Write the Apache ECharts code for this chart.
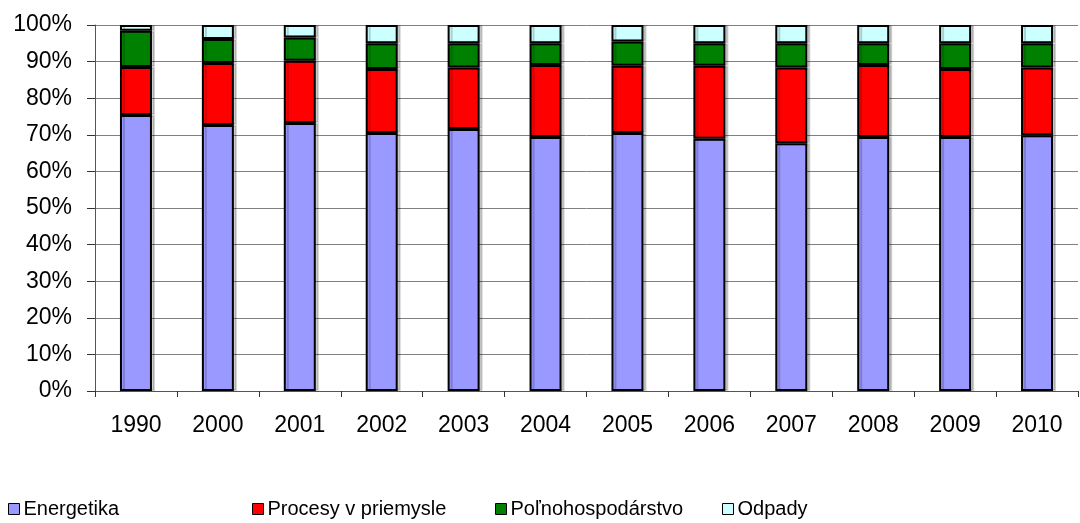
<!DOCTYPE html>
<html><head><meta charset="utf-8">
<script src="https://cdn.jsdelivr.net/npm/echarts@6/dist/echarts.min.js"></script>
<style>html,body{margin:0;padding:0;background:#fff}#c{width:1080px;height:523px}</style>
</head><body><div id="c"></div>
<script>
const years = ['1990','2000','2001','2002','2003','2004','2005','2006','2007','2008','2009','2010'];
const energetika = [75.4,72.7,73.2,70.5,71.6,69.4,70.5,68.9,67.7,69.4,69.4,69.9];
const procesy = [13.1,16.9,17.0,17.5,16.8,19.7,18.4,20.0,20.7,19.7,18.6,18.5];
const polnohospodarstvo = [9.9,6.6,6.4,7.0,6.6,5.9,6.6,6.1,6.6,5.9,7.0,6.6];
const odpady = [1.6,3.8,3.4,5.0,5.0,5.0,4.5,5.0,5.0,5.0,5.0,5.0];
const seriesNames = ['Energetika','Procesy v priemysle','Poľnohospodárstvo','Odpady'];
const colors = ['#9999FF','#FF0000','#008000','#CCFFFF'];
const values = [energetika, procesy, polnohospodarstvo, odpady];
const font = 'Liberation Sans, Arial, sans-serif';
const chart = echarts.init(document.getElementById('c'));
const legendLefts = [3, 247, 490, 717];
chart.setOption({
  animation:false,
  textStyle:{fontFamily:font},
  grid:{left:95,right:2,top:25,bottom:132},
  legend: seriesNames.map((n,i)=>({
    data:[n], left:legendLefts[i], top:494, itemWidth:11, itemHeight:11, itemGap:5,
    icon:'rect', textStyle:{fontFamily:font,fontSize:20,color:'#000',padding:[0,0,0,-1]},
    itemStyle:{borderColor:'#000',borderWidth:1}
  })),
  xAxis:{type:'category',data:years,
    axisLine:{lineStyle:{color:'#555',width:1}},
    axisTick:{show:true,length:6,inside:false,lineStyle:{color:'#333'}},
    axisLabel:{fontSize:23,color:'#000',margin:23,fontFamily:font}},
  yAxis:{type:'value',min:0,max:100,interval:10,
    axisLine:{show:true,lineStyle:{color:'#555'}},
    axisTick:{show:true,length:8,lineStyle:{color:'#333'}},
    splitLine:{lineStyle:{color:'#808080',width:1}},
    axisLabel:{fontSize:23,color:'#000',formatter:'{value}%',margin:23,fontFamily:font}},
  series: seriesNames.map((n,i)=>({
    name:n,type:'bar',stack:'a',data:values[i],barWidth:32,
    itemStyle:{color:colors[i],borderColor:'#000',borderWidth:2,
      shadowColor:'rgba(0,0,0,0.18)',shadowOffsetX:3,shadowOffsetY:0,shadowBlur:0}
  }))
});
</script></body></html>
